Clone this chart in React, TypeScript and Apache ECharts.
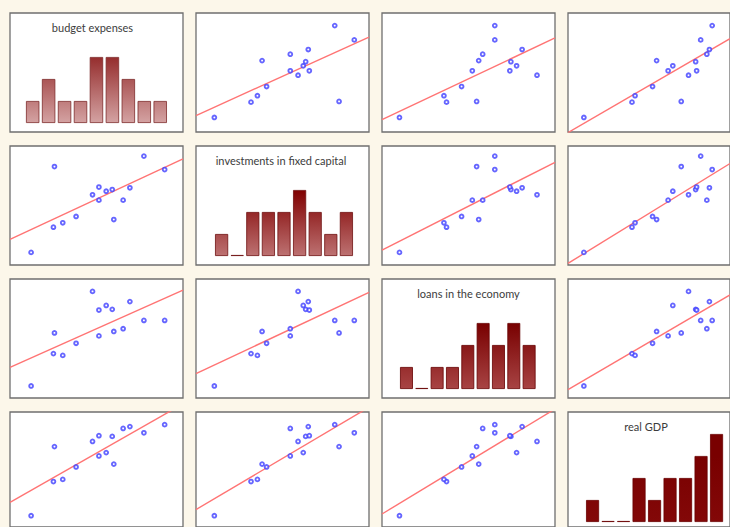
import React, { useEffect, useRef } from "react";
import * as echarts from "echarts";

// Variable names (diagonal titles)
const variableNames = [
  "budget expenses",
  "investments in fixed capital",
  "loans in the economy",
  "real GDP",
];

const budgetExpenses = [12.2, 25.1, 30.5, 38.2, 60.0, 65.4, 51.4, 47.7, 55.6, 59.1, 69.3, 51.4, 89.4, 25.7, 77.4];
const investmentsFixedCapital = [10.6, 31.8, 35.5, 40.8, 38.2, 54.5, 54.5, 59.0, 62.0, 63.4, 64.9, 65.5, 80.2, 82.7, 91.5];
const loansEconomy = [10.1, 37.3, 35.8, 46.0, 55.9, 58.2, 52.2, 89.6, 77.8, 74.5, 81.0, 73.9, 65.2, 54.7, 65.2];
const realGDP = [9.8, 39.5, 41.4, 52.2, 54.7, 85.7, 61.8, 74.4, 64.7, 78.8, 87.3, 79.4, 89.0, 69.9, 81.9];
const binLabels = ["1", "2", "3", "4", "5", "6", "7", "8", "9"];

const variables = [budgetExpenses, investmentsFixedCapital, loansEconomy, realGDP];

// Layout (pixels)
const COL_LEFT = [10, 196, 382, 568];
const ROW_TOP = [13, 146, 279, 412];
const PW = 173;
const PH = 119;
const HIST_LEFT = [24.7, 213.8, 398.8, 584.8];
const HIST_WIDTH = [143.5, 140.4, 138, 139.5];
const HIST_HEIGHT = 110;
const TITLE_X = [92.5, 281, 468.5, 646];
const BAR_TOP_COLORS = ["#952d2d", "#800000", "#780000", "#790000"];
const BAR_BOTTOM_COLORS = ["#d4a3a3", "#bd7272", "#a84444", "#830808"];
const BAR_BORDER = ["#7e2b2b", "#6e1010", "#660000", "#6a0000"];

function histogram(values: number[], bins: number): number[] {
  const min = Math.min(...values);
  const max = Math.max(...values);
  const w = (max - min) / bins;
  const counts = new Array(bins).fill(0);
  values.forEach((v) => {
    let i = Math.floor((v - min) / w);
    if (i >= bins) i = bins - 1;
    if (i < 0) i = 0;
    counts[i]++;
  });
  return counts;
}

function ols(x: number[], y: number[]) {
  const n = x.length;
  const mx = x.reduce((s, v) => s + v, 0) / n;
  const my = y.reduce((s, v) => s + v, 0) / n;
  let sxy = 0;
  let sxx = 0;
  for (let i = 0; i < n; i++) {
    sxy += (x[i] - mx) * (y[i] - my);
    sxx += (x[i] - mx) * (x[i] - mx);
  }
  const b = sxy / sxx;
  return { a: my - b * mx, b };
}

function buildOption() {
  const grid: any[] = [];
  const xAxis: any[] = [];
  const yAxis: any[] = [];
  const series: any[] = [];
  const graphic: any[] = [];

  for (let r = 0; r < 4; r++) {
    for (let c = 0; c < 4; c++) {
      const gi = r * 4 + c;
      grid.push({
        left: COL_LEFT[c],
        top: ROW_TOP[r],
        width: PW,
        height: PH,
        show: true,
        backgroundColor: "#ffffff",
        borderColor: "#6f6f6f",
        borderWidth: 1.3,
        containLabel: false,
      });
      xAxis.push({ type: "value", gridIndex: gi, min: 0, max: 100, show: false });
      yAxis.push({ type: "value", gridIndex: gi, min: 0, max: 100, show: false });
      if (r !== c) {
        const xs = variables[c];
        const ys = variables[r];
        const { a, b } = ols(xs, ys);
        series.push({
          type: "line",
          xAxisIndex: gi,
          yAxisIndex: gi,
          data: [
            [0, a],
            [100, a + 100 * b],
          ],
          showSymbol: false,
          clip: true,
          silent: true,
          lineStyle: { color: "#ff7474", width: 1.4 },
          z: 2,
        });
        series.push({
          type: "scatter",
          xAxisIndex: gi,
          yAxisIndex: gi,
          data: xs.map((v, i) => [v, ys[i]]),
          symbol: "circle",
          symbolSize: 3.8,
          itemStyle: { color: "#ffffff", borderColor: "#4040ff", borderWidth: 1.9 },
          z: 3,
        });
      }
    }
  }

  // histogram grids on the diagonal
  for (let i = 0; i < 4; i++) {
    const gi = 16 + i;
    grid.push({
      left: HIST_LEFT[i],
      top: ROW_TOP[i],
      width: HIST_WIDTH[i],
      height: HIST_HEIGHT,
      show: false,
      containLabel: false,
    });
    xAxis.push({ type: "category", gridIndex: gi, data: binLabels, show: false });
    yAxis.push({ type: "value", gridIndex: gi, min: 0, max: 5, show: false });
    const base = ROW_TOP[i] + HIST_HEIGHT;
    const grad = new echarts.graphic.LinearGradient(
      0,
      base - 66,
      0,
      base,
      [
        { offset: 0, color: BAR_TOP_COLORS[i] },
        { offset: 1, color: BAR_BOTTOM_COLORS[i] },
      ],
      true
    );
    series.push({
      type: "bar",
      xAxisIndex: gi,
      yAxisIndex: gi,
      data: histogram(variables[i], binLabels.length),
      barCategoryGap: "16%",
      barMinHeight: 1,
      itemStyle: { color: grad, borderColor: BAR_BORDER[i], borderWidth: 0.8 },
      z: 2,
    });
    graphic.push({
      type: "text",
      x: TITLE_X[i],
      y: ROW_TOP[i] + 9,
      style: {
        text: variableNames[i],
        align: "center",
        verticalAlign: "top",
        textAlign: "center",
        textVerticalAlign: "top",
        fill: "#3c3c3c",
        fontSize: 11,
        fontFamily: "Lato",
      },
      z: 10,
    });
  }

  return {
    animation: false,
    backgroundColor: "#fcf7ea",
    grid,
    xAxis,
    yAxis,
    series,
    graphic,
  };
}

export default function App() {
  const ref = useRef<HTMLDivElement | null>(null);
  useEffect(() => {
    if (!ref.current) return;
    const chart = echarts.init(ref.current, undefined, { renderer: "svg" });
    chart.setOption(buildOption() as any);
    return () => {
      chart.dispose();
    };
  }, []);
  return (
    <div
      ref={ref}
      style={{ position: "fixed", left: 0, top: 0, width: 730, height: 527 }}
    />
  );
}
